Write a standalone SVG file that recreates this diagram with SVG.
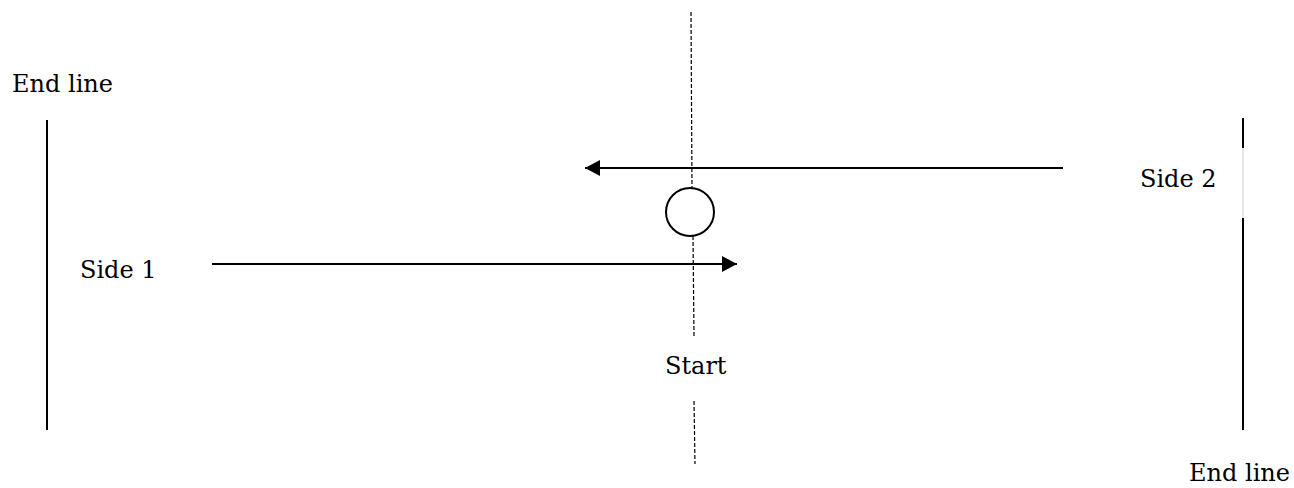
<svg xmlns="http://www.w3.org/2000/svg" width="1294" height="488" viewBox="0 0 1294 488">
<style>
text{font-family:"DejaVu Serif","Liberation Serif",serif;font-size:24px;fill:#000}
.solid{stroke:#000;stroke-width:2;fill:none}
.dash{stroke:#000;stroke-width:1.2;stroke-dasharray:4 2;fill:none}
</style>
<defs>
<marker id="ah" markerWidth="15" markerHeight="16" refX="15" refY="8" orient="auto" markerUnits="userSpaceOnUse">
<path d="M0,0 L15,8 L0,16 Z" fill="#000"/>
</marker>
</defs>
<rect width="1294" height="488" fill="#fff"/>
<g id="labels">
<text x="12" y="92">End line</text>
<text x="80" y="278">Side 1</text>
<text x="1140" y="187">Side 2</text>
<text x="665" y="374">Start</text>
<text x="1189" y="481">End line</text>
</g>
<g id="endline-left"><line class="solid" x1="47" y1="120" x2="47" y2="430"/></g>
<g id="endline-right">
<line class="solid" x1="1243" y1="118" x2="1243" y2="148"/>
<line x1="1243" y1="148" x2="1243" y2="218" stroke="#ccc" stroke-width="1"/>
<line class="solid" x1="1243" y1="218" x2="1243" y2="430"/>
</g>
<g id="start-line">
<line class="dash" x1="691" y1="12" x2="692" y2="188"/>
<line class="dash" x1="693" y1="236" x2="694" y2="336"/>
<line class="dash" x1="694" y1="401" x2="695" y2="464"/>
</g>
<g id="ball"><circle cx="690" cy="212" r="24" class="solid"/></g>
<g id="connectors">
<line class="solid" x1="1063" y1="168" x2="585" y2="168" marker-end="url(#ah)"/>
<line class="solid" x1="212" y1="264" x2="737" y2="264" marker-end="url(#ah)"/>
</g>
</svg>
